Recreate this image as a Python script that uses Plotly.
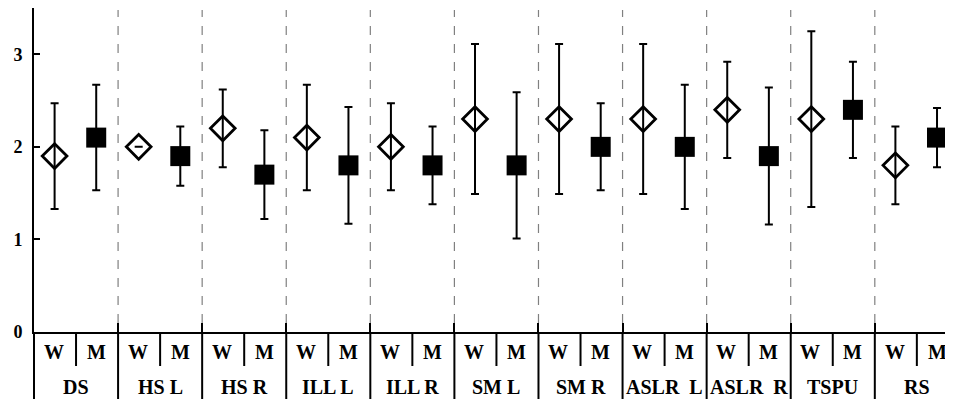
import plotly.graph_objects as go

groups = ["DS", "HS L", "HS R", "ILL L", "ILL R", "SM L", "SM R", "ASLR  L", "ASLR  R", "TSPU", "RS"]
w_mean = [1.9, 2.0, 2.2, 2.1, 2.0, 2.3, 2.3, 2.3, 2.4, 2.3, 1.8]
w_err = [0.57, 0.0, 0.42, 0.57, 0.47, 0.81, 0.81, 0.81, 0.52, 0.95, 0.42]
m_mean = [2.1, 1.9, 1.7, 1.8, 1.8, 1.8, 2.0, 2.0, 1.9, 2.4, 2.1]
m_err = [0.57, 0.32, 0.48, 0.63, 0.42, 0.79, 0.47, 0.67, 0.74, 0.52, 0.32]
sub_labels = ["W", "M"]
y_ticks = [0, 1, 2, 3]

FONT = "Liberation Serif"
n = len(groups)
xmax = 10.93
W_OFF, M_OFF = 0.245, 0.74
LABEL_OFF = {"W": 0.235, "M": 0.74}

# The page body has an 8px margin, so the figure is 945x391 and drawn at (8, 8).
PH = 324.0  # plot height in px

fig = go.Figure()
fig.add_trace(go.Scatter(
    x=[i + W_OFF for i in range(n)], y=w_mean, mode="markers",
    marker=dict(symbol="diamond-open", size=19, color="black", line=dict(width=2.8, color="black")),
    error_y=dict(type="data", array=w_err, visible=True, color="black", thickness=2, width=4),
    showlegend=False, cliponaxis=False))
fig.add_trace(go.Scatter(
    x=[i + M_OFF for i in range(n)], y=m_mean, mode="markers",
    marker=dict(symbol="square", size=20, color="black", line=dict(width=0)),
    error_y=dict(type="data", array=m_err, visible=True, color="black", thickness=2, width=4),
    showlegend=False, cliponaxis=False))

shapes = []
annotations = []
pb = -70 / PH   # bottom of figure in paper coordinates
pmid = -34 / PH  # bottom of W/M dividers
for i in range(1, n):
    shapes.append(dict(type="line", xref="x", yref="paper", x0=i, x1=i, y0=9 / PH, y1=0.994,
                       line=dict(color="#808080", width=1.2, dash="dash")))
    shapes.append(dict(type="line", xref="x", yref="paper", x0=i, x1=i, y0=0, y1=pb,
                       line=dict(color="black", width=2)))
for i in range(n):
    shapes.append(dict(type="line", xref="x", yref="paper", x0=i + 0.5, x1=i + 0.5, y0=0, y1=pmid,
                       line=dict(color="black", width=2)))
    for lab in sub_labels:
        annotations.append(dict(x=i + LABEL_OFF[lab], y=-20 / PH, xref="x", yref="paper",
                                text="<b>%s</b>" % lab, showarrow=False,
                                font=dict(family=FONT, size=20, color="black"),
                                xanchor="center", yanchor="middle"))
    annotations.append(dict(x=i + 0.5, y=-55 / PH, xref="x", yref="paper",
                            text="<b>%s</b>" % groups[i], showarrow=False,
                            font=dict(family=FONT, size=20, color="black"),
                            xanchor="center", yanchor="middle"))
shapes.append(dict(type="line", xref="paper", yref="paper", x0=0, x1=0, y0=0, y1=pb,
                   line=dict(color="black", width=2)))

fig.update_layout(
    width=945, height=391,
    margin=dict(l=26, r=0, t=0, b=67),
    paper_bgcolor="white", plot_bgcolor="white",
    shapes=shapes, annotations=annotations,
    xaxis=dict(range=[0, xmax], showgrid=False, zeroline=False, showline=True,
               linecolor="black", linewidth=2, ticks="inside", tickvals=list(range(1, n)),
               ticklen=9, tickwidth=1.5, tickcolor="black", showticklabels=False, fixedrange=True),
    yaxis=dict(range=[0, 3.5], showgrid=False, zeroline=False, showline=True,
               linecolor="black", linewidth=2, ticks="inside", tickvals=y_ticks,
               ticktext=["<b>%d</b>" % v for v in y_ticks],
               ticklen=6, tickwidth=1.5, tickcolor="black", ticklabelstandoff=6,
               tickfont=dict(family=FONT, size=18, color="black"), fixedrange=True),
)

fig.write_html("out.html")
